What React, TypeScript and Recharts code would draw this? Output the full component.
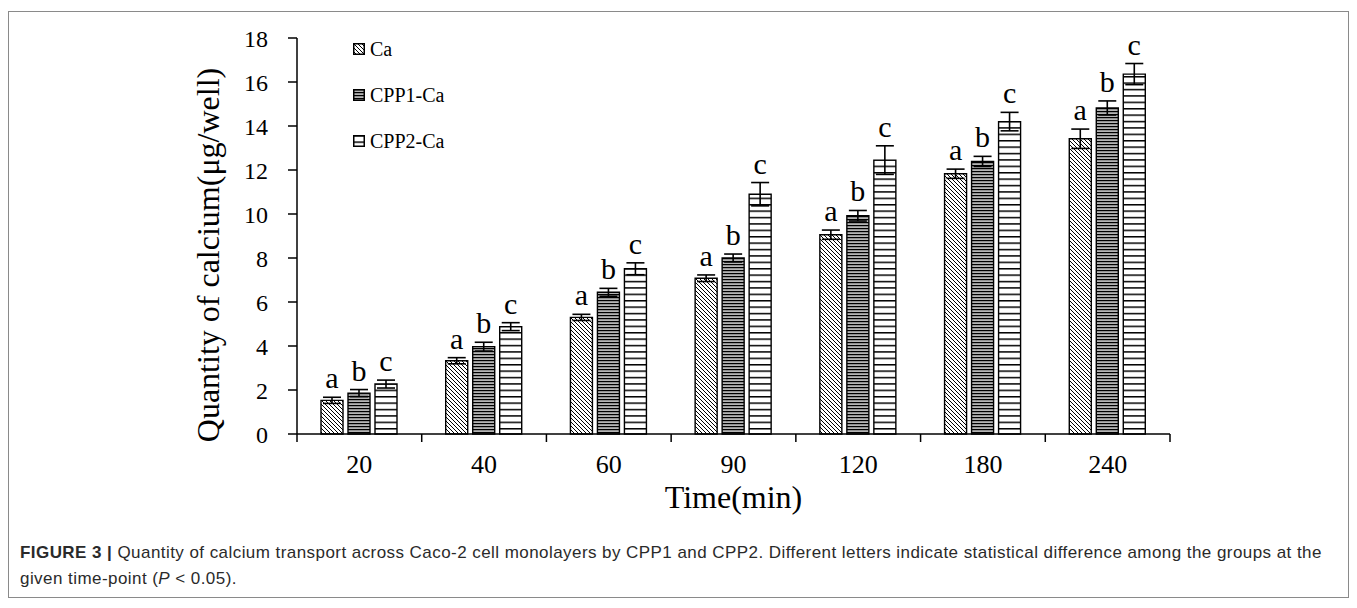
import React from 'react';
import { BarChart, Bar, XAxis, YAxis, ErrorBar, LabelList } from 'recharts';

const times = ['20', '40', '60', '90', '120', '180', '240'];
const caValues = [1.53, 3.33, 5.3, 7.08, 9.06, 11.83, 13.42];
const caErrors = [0.14, 0.14, 0.14, 0.15, 0.21, 0.21, 0.44];
const cpp1Values = [1.86, 3.97, 6.44, 8.0, 9.92, 12.39, 14.82];
const cpp1Errors = [0.16, 0.2, 0.18, 0.18, 0.24, 0.23, 0.32];
const cpp2Values = [2.27, 4.88, 7.51, 10.9, 12.45, 14.2, 16.36];
const cpp2Errors = [0.18, 0.18, 0.27, 0.53, 0.65, 0.42, 0.48];
const caLetters = ['a', 'a', 'a', 'a', 'a', 'a', 'a'];
const cpp1Letters = ['b', 'b', 'b', 'b', 'b', 'b', 'b'];
const cpp2Letters = ['c', 'c', 'c', 'c', 'c', 'c', 'c'];
const yTicks = [0, 2, 4, 6, 8, 10, 12, 14, 16, 18];
const seriesNames = ['Ca', 'CPP1-Ca', 'CPP2-Ca'];
const patternIds = ['patCa', 'patCpp1', 'patCpp2'];

const data = times.map((t, i) => ({
  time: t,
  ca: caValues[i],
  caErr: caErrors[i],
  caLetter: caLetters[i],
  cpp1: cpp1Values[i],
  cpp1Err: cpp1Errors[i],
  cpp1Letter: cpp1Letters[i],
  cpp2: cpp2Values[i],
  cpp2Err: cpp2Errors[i],
  cpp2Letter: cpp2Letters[i],
}));

const SERIF = '"Liberation Serif", "Times New Roman", serif';
const TICK_SIZE = 8;
const TICK_MARGIN = 13;

const makeLetterLabel = (values: number[], errors: number[]) => (props: any) => {
  const vb = props.viewBox || props;
  const x = Number(vb.x);
  const y = Number(vb.y);
  const w = Number(vb.width);
  const h = Math.abs(Number(vb.height));
  const i = props.index;
  const v = values[i];
  const pxPerUnit = v ? h / v : 0;
  const errTop = y - errors[i] * pxPerUnit;
  return (
    <text x={x + w / 2} y={errTop - 9} textAnchor="middle" fontFamily={SERIF} fontSize={30} fill="#000">
      {props.value}
    </text>
  );
};

const XTick = (props: any) => {
  const { x, y, payload, index } = props;
  const off = payload && payload.offset ? payload.offset : 0;
  const axisY = y - TICK_SIZE - TICK_MARGIN;
  return (
    <g>
      <line x1={x - off} x2={x - off} y1={axisY} y2={axisY + TICK_SIZE} stroke="#000" strokeWidth={1.5} />
      {index === times.length - 1 && (
        <line x1={x + off} x2={x + off} y1={axisY} y2={axisY + TICK_SIZE} stroke="#000" strokeWidth={1.5} />
      )}
      <text x={x} y={y} dy="0.71em" textAnchor="middle" fontFamily={SERIF} fontSize={26} fill="#000">
        {payload.value}
      </text>
    </g>
  );
};

const YTitle = (props: any) => {
  const vb = props.viewBox || props;
  const cx = Number(vb.x) + Number(vb.width) / 2;
  const cy = Number(vb.y) + Number(vb.height) / 2 + 19;
  return (
    <text
      transform={`translate(${cx},${cy}) rotate(-90)`}
      textAnchor="middle"
      dy="0.355em"
      fontFamily={SERIF}
      fontSize={32}
      fill="#000"
    >
      Quantity of calcium(μg/well)
    </text>
  );
};

const Patterns = () => (
  <svg width={0} height={0} style={{ position: 'absolute' }}>
    <defs>
      <pattern id="patCa" patternUnits="userSpaceOnUse" width={4} height={4}>
        <rect width={4} height={4} fill="#fff" />
        <path d="M-1,-1 L5,5 M-1,3 L1,5 M3,-1 L5,1" stroke="#000" strokeWidth={1} />
      </pattern>
      <pattern id="patCpp1" patternUnits="userSpaceOnUse" width={4} height={3}>
        <rect width={4} height={3} fill="#b5b5b5" />
        <line x1={0} x2={4} y1={0.6} y2={0.6} stroke="#000" strokeWidth={1.2} />
      </pattern>
      <pattern id="patCpp2" patternUnits="userSpaceOnUse" width={4} height={6.4}>
        <rect width={4} height={6.4} fill="#fff" />
        <line x1={0} x2={4} y1={0.75} y2={0.75} stroke="#000" strokeWidth={1.5} />
      </pattern>
    </defs>
  </svg>
);

export default function App() {
  return (
    <div
      style={{
        position: 'relative',
        width: 1341,
        height: 587,
        marginTop: 3,
        border: '1px solid #8a8a8a',
        boxSizing: 'border-box',
        background: '#fff',
      }}
    >
      <Patterns />
      <BarChart
        width={1339}
        height={512}
        data={data}
        margin={{ top: 26, right: 178, left: 110, bottom: 16 }}
        barGap={5}
      >
        <XAxis
          dataKey="time"
          tickLine={false}
          axisLine={{ stroke: '#000', strokeWidth: 1.5 }}
          tick={<XTick />}
          tickSize={TICK_SIZE}
          tickMargin={TICK_MARGIN}
          height={74}
          interval={0}
          label={{
            value: 'Time(min)',
            position: 'insideBottom',
            offset: 0,
            style: { fontFamily: SERIF, fontSize: 32, fill: '#000' },
          }}
        />
        <YAxis
          domain={[0, 18]}
          ticks={yTicks}
          width={178}
          tickSize={9}
          tickMargin={20}
          axisLine={{ stroke: '#000', strokeWidth: 1.5 }}
          tickLine={{ stroke: '#000', strokeWidth: 1.5 }}
          tick={{ fontFamily: SERIF, fontSize: 24, fill: '#000' }}
          label={{ content: <YTitle /> }}
        />
        <Bar dataKey="ca" barSize={22} fill="url(#patCa)" stroke="#000" strokeWidth={1.4} isAnimationActive={false}>
          <ErrorBar dataKey="caErr" width={9} stroke="#000" strokeWidth={1.6} />
          <LabelList dataKey="caLetter" content={makeLetterLabel(caValues, caErrors)} />
        </Bar>
        <Bar dataKey="cpp1" barSize={22} fill="url(#patCpp1)" stroke="#000" strokeWidth={1.4} isAnimationActive={false}>
          <ErrorBar dataKey="cpp1Err" width={9} stroke="#000" strokeWidth={1.6} />
          <LabelList dataKey="cpp1Letter" content={makeLetterLabel(cpp1Values, cpp1Errors)} />
        </Bar>
        <Bar dataKey="cpp2" barSize={22} fill="url(#patCpp2)" stroke="#000" strokeWidth={1.4} isAnimationActive={false}>
          <ErrorBar dataKey="cpp2Err" width={9} stroke="#000" strokeWidth={1.6} />
          <LabelList dataKey="cpp2Letter" content={makeLetterLabel(cpp2Values, cpp2Errors)} />
        </Bar>
      </BarChart>

      <div style={{ position: 'absolute', left: 344, top: 14, fontFamily: SERIF, fontSize: 20, color: '#000' }}>
        {seriesNames.map((name, i) => (
          <div key={name} style={{ display: 'flex', alignItems: 'center', height: 46 }}>
            <svg width={12} height={12} style={{ marginRight: 5 }}>
              <rect x={0.75} y={0.75} width={10.5} height={10.5} fill={`url(#${patternIds[i]})`} stroke="#000" strokeWidth={1.5} />
            </svg>
            <span>{name}</span>
          </div>
        ))}
      </div>

      <div
        style={{
          position: 'absolute',
          left: 11,
          top: 528,
          fontFamily: '"Liberation Sans", Arial, sans-serif',
          fontSize: 17,
          letterSpacing: '0.44px',
          lineHeight: '26px',
          color: '#2a2a2a',
          whiteSpace: 'nowrap',
        }}
      >
        <span style={{ fontWeight: 'bold' }}>FIGURE 3 |</span> Quantity of calcium transport across Caco-2 cell monolayers by CPP1 and CPP2. Different letters indicate statistical difference among the groups at the
        <br />
        given time-point (<i>P</i> &lt; 0.05).
      </div>
    </div>
  );
}
